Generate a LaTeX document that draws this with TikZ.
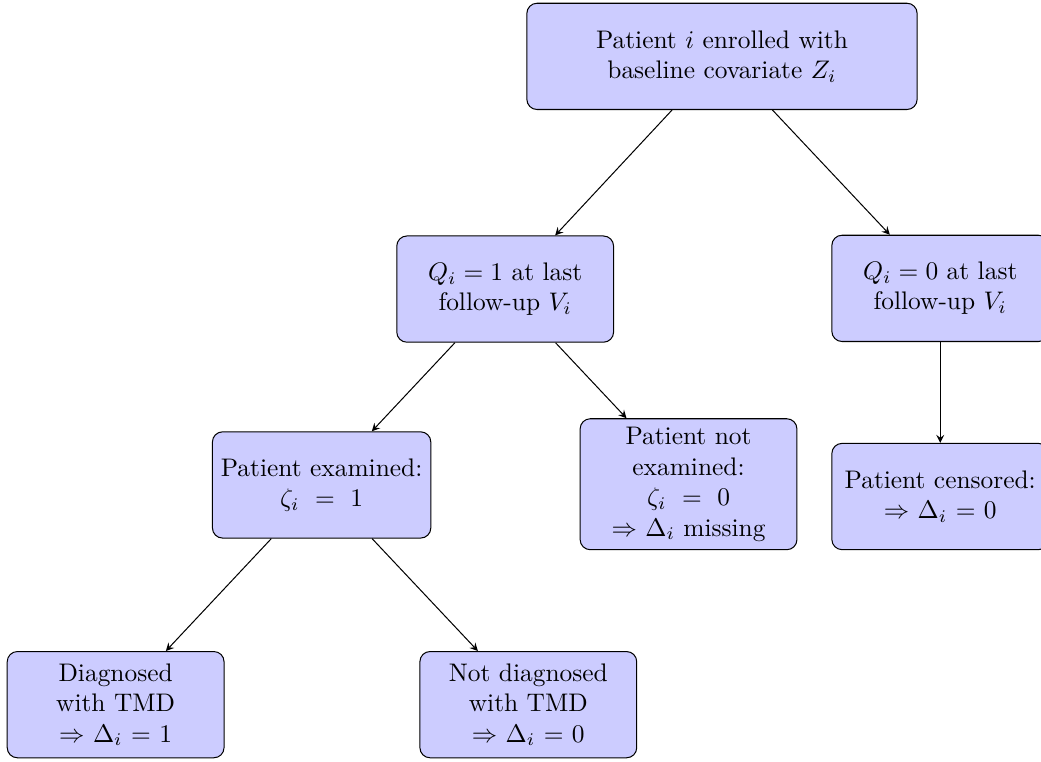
\documentclass[tikz,border=0pt]{standalone}
\usepackage{amsmath}
\usepackage{amssymb}
\usepackage{tikz}
\usetikzlibrary{arrows.meta}

\begin{document}
\begin{tikzpicture}[box/.style={draw,fill=blue!20,rounded corners,align=center,minimum width=3cm,minimum height=1.47cm}]
    \useasboundingbox(0,0)rectangle(14.404,-10.53);

    \node[box,minimum width=5.4cm](enrol)at(9.99,-0.78){Patient $i$ enrolled with\\ baseline covariate $Z_i$};
    \node[box](qone)at(6.99,-4.0){$Q_i=1$ at last\\ follow-up $V_i$};
    \node[box](qzero)at(13.01,-3.99){$Q_i=0$ at last\\ follow-up $V_i$};
    \node[box](exam)at(4.45,-6.71){Patient examined:\\ $\zeta_i\ =\ 1$};
    \node[box](noexam)at(9.527,-6.70){Patient not\\ examined:\\ $\zeta_i\ =\ 0$\\ $\Rightarrow$ $\Delta_i$ missing};
    \node[box](cens)at(13.01,-6.87){Patient censored:\\ $\Rightarrow$ $\Delta_i$ $=$ $0$};
    \node[box](diag)at(1.6,-9.75){Diagnosed\\ with TMD\\ $\Rightarrow$ $\Delta_i$ $=$ $1$};
    \node[box](nodiag)at(7.31,-9.75){Not diagnosed\\ with TMD\\ $\Rightarrow$ $\Delta_i$ $=$ $0$};

    \draw[->,>=stealth](enrol)--(qone);
    \draw[->,>=stealth](enrol)--(qzero);
    \draw[->,>=stealth](qone)--(exam);
    \draw[->,>=stealth](qone)--(noexam);
    \draw[->,>=stealth](qzero)--(cens);
    \draw[->,>=stealth](exam)--(diag);
    \draw[->,>=stealth](exam)--(nodiag);
  \end{tikzpicture}
\end{document}
